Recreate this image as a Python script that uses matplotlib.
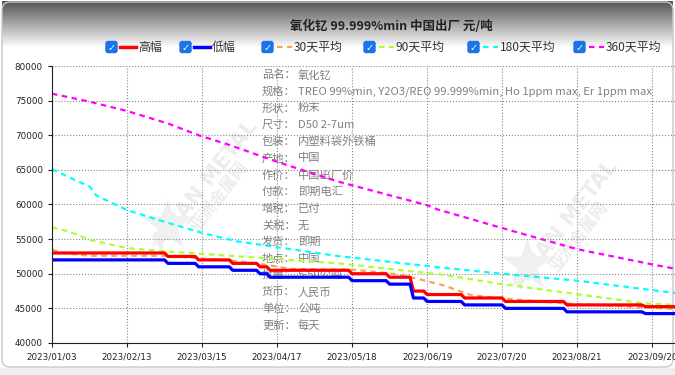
import numpy as np
import matplotlib
matplotlib.use('Agg')
import matplotlib.pyplot as plt
from matplotlib.lines import Line2D
from matplotlib.patches import FancyBboxPatch

plt.rcParams['font.family'] = ['Noto Sans CJK SC', 'DejaVu Sans']

# x axis is trading-day index, a tick every 22 days
tick_labels = ['2023/01/03', '2023/02/13', '2023/03/15', '2023/04/17', '2023/05/18',
               '2023/06/19', '2023/07/20', '2023/08/21', '2023/09/20']
n_days = 184

# step prices: day where price changes and new price
step_days = [0, 34, 43, 53, 61, 64, 88, 99, 106, 110, 121, 133, 151, 174]
high_vals = [53000, 52500, 52000, 51500, 51000, 50500, 50000, 49500, 47500, 47000, 46500, 46000, 45500, 45250]
low_vals = [52000, 51500, 51000, 50500, 50000, 49500, 49000, 48500, 46500, 46000, 45500, 45000, 44500, 44250]

# moving averages read at sample days
ma30_days = [0, 3, 11, 34, 44, 55, 64, 70, 88, 100, 107, 115, 123, 132, 143, 154, 168, 183]
ma30_vals = [53500, 53000, 52600, 52600, 52200, 51800, 51200, 50700, 50600, 50000, 49300, 48300,
             46900, 46450, 46000, 45600, 45300, 44900]
ma90_days = [0, 5, 11, 22, 34, 55, 84, 114, 132, 154, 174, 183]
ma90_vals = [56700, 56100, 54900, 53700, 53200, 52500, 51500, 49900, 48500, 47050, 45700, 45500]
ma180_days = [0, 6, 11, 13, 22, 34, 44, 54, 84, 114, 132, 154, 183]
ma180_vals = [65100, 63700, 62600, 61300, 59200, 57350, 55900, 54700, 52550, 50900, 50000, 49000, 47200]
ma360_days = [0, 11, 22, 34, 43, 52, 67, 84, 110, 113, 132, 154, 176, 183]
ma360_vals = [76000, 74850, 73500, 71700, 70000, 68600, 66000, 63300, 59900, 59300, 56600, 53550, 51350, 50700]

info_keys = ['品名：', '规格：', '形状：', '尺寸：', '包装：', '产地：', '作价：', '付款：',
             '增税：', '关税：', '发货：', '地点：', '批量：', '货币：', '单位：', '更新：']
info_vals = ['氧化钇', 'TREO 99%min, Y2O3/REO 99.999%min, Ho 1ppm max, Er 1ppm max', '粉末',
             'D50 2-7um', '内塑料袋外铁桶', '中国', '中国出厂价', '即期电汇', '已付', '无', '即期',
             '中国', '5-50公吨', '人民币', '公吨', '每天']


def daily(days, vals, n):
    seg = np.diff(days + [n])
    return np.repeat(vals, seg)


high = daily(step_days, high_vals, n_days)
low = daily(step_days, low_vals, n_days)
x = np.arange(n_days)

fig = plt.figure(figsize=(6.75, 3.75), dpi=100)

# background: grey header gradient, border, bottom band
bg = fig.add_axes([0, 0, 1, 1])
bg.set_xlim(0, 675)
bg.set_ylim(375, 0)
bg.axis('off')
grad = np.linspace(0.33, 1.0, 60).reshape(-1, 1)
bg.imshow(grad, cmap='gray', vmin=0, vmax=1, extent=[2, 673, 48, 1], aspect='auto', zorder=0)
bg.add_patch(plt.Rectangle((0, 368), 675, 7, color='#eeeeee', zorder=1))
bg.add_patch(FancyBboxPatch((2, 2), 671, 365, boxstyle='round,pad=0,rounding_size=8',
                            fill=False, ec='#c8c8c8', lw=1, zorder=2))

fig.text(391 / 675, 1 - 26 / 375, '氧化钇 99.999%min 中国出厂 元/吨', ha='center', va='center',
         fontsize=9, fontweight='bold', color='#222222')

# legend with check boxes
leg = [('高幅', '#ff0000', '-', 106), ('低幅', '#0000ff', '-', 180),
       ('30天平均', '#f4a460', '--', 262), ('90天平均', '#adff2f', '--', 364),
       ('180天平均', '#00ffff', '--', 468), ('360天平均', '#ff00ff', '--', 574)]
ly = 47
for name, col, ls, px in leg:
    bg.add_patch(FancyBboxPatch((px, ly - 5.5), 11, 11, boxstyle='round,pad=0,rounding_size=2',
                                fc='#1a73e8', ec='#1a73e8', zorder=3))
    bg.text(px + 5.5, ly + 0.5, '✓', color='white', fontsize=7, fontweight='bold',
            ha='center', va='center', family='DejaVu Sans', zorder=4)
    if ls == '-':
        bg.add_line(Line2D([px + 14, px + 30], [ly, ly], color=col, lw=2.5, zorder=3))
    else:
        bg.add_line(Line2D([px + 15, px + 30], [ly, ly], color=col, lw=1.6,
                           dashes=(2.5, 2), zorder=3))
    bg.text(px + 32, ly, name, fontsize=8.6, color='#333333', ha='left', va='center', zorder=3)

# watermarks
for wx, wy in [(205, 185), (565, 225)]:
    bg.text(wx, wy, 'ASIAN METAL', rotation=52, fontsize=15, fontweight='bold',
            color='#ececec', ha='center', va='center', zorder=1, family='DejaVu Sans')
    bg.text(wx + 14, wy + 12, '亚洲金属网', rotation=52, fontsize=12, fontweight='bold',
            color='#ececec', ha='center', va='center', zorder=1)
    bg.plot(wx - 38, wy + 40, marker='*', ms=40, color='#f0f0f0', mec='none', zorder=1)

ax = fig.add_axes([52 / 675, 1 - 343 / 375, 1 - 52 / 675, (343 - 66) / 375])
ax.patch.set_alpha(0)
ax.plot(ma360_days, ma360_vals, color='#ff00ff', lw=1.6, dashes=(2.5, 2))
ax.plot(ma180_days, ma180_vals, color='#00ffff', lw=1.6, dashes=(2.5, 2))
ax.plot(ma90_days, ma90_vals, color='#adff2f', lw=1.6, dashes=(2.5, 2))
ax.plot(ma30_days, ma30_vals, color='#f4a460', lw=1.6, dashes=(2.5, 2))
ax.plot(x, high, color='#ff0000', lw=2.3)
ax.plot(x, low, color='#0000ff', lw=2.3)

ax.set_xlim(0, 182.7)
ax.set_ylim(40000, 80000)
ax.set_yticks(np.arange(40000, 80001, 5000))
ax.set_xticks(np.arange(len(tick_labels)) * 22)
ax.set_xticklabels(tick_labels)
ax.tick_params(axis='both', labelsize=6.3, length=3, width=0.8, colors='#222222')
for lab in ax.get_xticklabels() + ax.get_yticklabels():
    lab.set_family('DejaVu Sans')
ax.grid(True, color='#888888', ls=':', lw=0.8)
ax.spines['top'].set_visible(False)
ax.spines['right'].set_visible(False)
ax.spines['left'].set_color('#222222')
ax.spines['bottom'].set_color('#222222')

# info panel
for k, (key, val) in enumerate(zip(info_keys, info_vals)):
    yy = 75 + k * 16.7
    bg.text(262, yy, key, fontsize=8.1, color='#808080', ha='left', va='center', zorder=5)
    bg.text(298, yy, val, fontsize=8.1, color='#808080', ha='left', va='center', zorder=5)

fig.savefig('out.png', dpi=100)
